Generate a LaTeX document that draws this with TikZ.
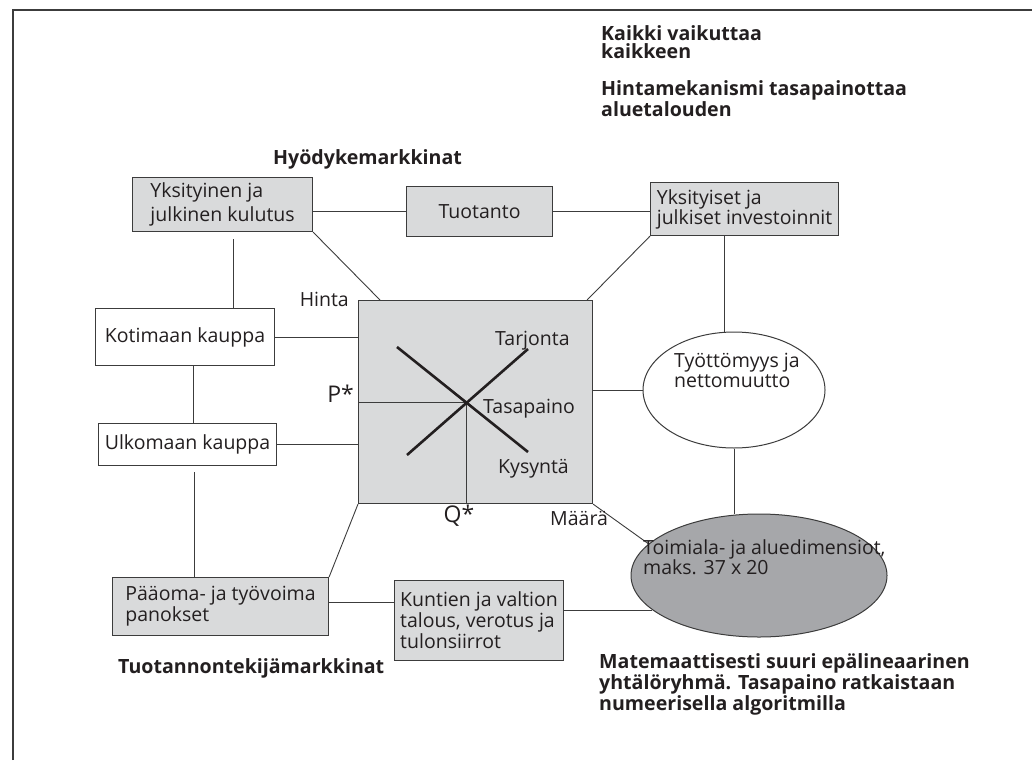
\documentclass[tikz,border=0pt]{standalone}
\usepackage{fontspec}
\setmainfont{Open Sans}
\usetikzlibrary{shapes.geometric,calc,backgrounds}
\definecolor{boxgray}{HTML}{D9DADB}
\definecolor{ellgray}{HTML}{A6A7AA}
\definecolor{linec}{HTML}{3C3C3C}
\definecolor{txt}{HTML}{231F20}
\begin{document}
\begin{tikzpicture}[x=1pt,y=-1pt,
  every node/.style={text=txt},
  boxnode/.style={draw=linec, line width=1.1pt, fill=boxgray, anchor=north west, inner sep=0pt, align=left, font=\fontsize{19.5}{21}\selectfont},
  whitebox/.style={boxnode, fill=white},
  ellnode/.style={draw=linec, line width=1pt, ellipse, inner sep=0pt},
  conn/.style={draw=linec, line width=0.9pt},
  curve/.style={draw=txt, line width=2.6pt},
  boldtxt/.style={font=\bfseries\fontsize{19.6}{18}\selectfont, align=left, anchor=base west, inner sep=0pt},
  plain/.style={font=\fontsize{19.5}{20}\selectfont, inner sep=0pt},
  startxt/.style={font=\fontsize{23}{23}\selectfont, inner sep=0pt}
]
\useasboundingbox (0,0) rectangle (1032,760);
\draw[linec, line width=1.2pt] (13,760) -- (13,10) -- (1032,10);

% boxes
\node[boxnode, minimum width=180, minimum height=54, font=\fontsize{19.5}{24}\selectfont] (yk) at (132,177) {Yksityinen ja\\julkinen kulutus};
\node[boxnode, minimum width=146, minimum height=50] (tuo) at (406,186) {Tuotanto};
\node[boxnode, minimum width=188, minimum height=53, font=\fontsize{19.5}{20}\selectfont] (inv) at (650,182) {Yksityiset ja\\julkiset investoinnit};
\node[whitebox, minimum width=179, minimum height=57] (kot) at (95,308) {Kotimaan kauppa};
\node[whitebox, minimum width=178, minimum height=42] (ulk) at (98,423) {Ulkomaan kauppa};
\node[boxnode, minimum width=216, minimum height=58] (paa) at (112,577) {Pääoma- ja työvoima\\panokset};
\node[boxnode, minimum width=169, minimum height=80] (kun) at (394,580) {Kuntien ja valtion\\talous, verotus ja\\tulonsiirrot};
\node[boxnode, minimum width=234, minimum height=203] (sq) at (358,300) {};

% ellipses
\node[ellnode, fill=white, minimum width=182, minimum height=116] (tyo) at (734,390) {};
\node[plain, align=left, anchor=base west] (tyotxt) at (674,387) {Työttömyys ja\\nettomuutto};
\node[ellnode, fill=ellgray, minimum width=256, minimum height=123] (toim) at (759,575.5) {};
\node[plain, align=left, anchor=base west] (toimtxt) at (643,574) {Toimiala- ja aluedimensiot,\\maks. 37 x 20};

% supply and demand chart
\coordinate (eq) at (466,402.5);
\draw[conn] (sq.west |- eq) -- (eq) -- (eq |- sq.south);
\draw[curve] (407,455) -- (528,349);
\draw[curve] (397,347) -- (528,452);
\node[plain, anchor=base west] (tarj) at (495,345) {Tarjonta};
\node[plain, anchor=base west] (tasa) at (483,413) {Tasapaino};
\node[plain, anchor=base west] (kys) at (498,473) {Kysyntä};
\node[plain, anchor=base east] (hinta) at (349,306) {Hinta};
\node[plain, anchor=base west] (maara) at (550,525) {Määrä};
\node[startxt, anchor=base east] (pstar) at (354,402) {P*};
\node[startxt, anchor=base] (qstar) at (459,522) {Q*};

% bold texts
\node[boldtxt] (kaikki) at (601,59) {Kaikki vaikuttaa\\kaikkeen};
\node[boldtxt] (mekan) at (601,116) {Hintamekanismi tasapainottaa\\aluetalouden};
\node[boldtxt] (hyod) at (273,164) {Hyödykemarkkinat};
\node[boldtxt] (tuotm) at (118,673) {Tuotannontekijämarkkinat};
\node[boldtxt] (mate) at (599,710) {Matemaattisesti suuri epälineaarinen\\yhtälöryhmä. Tasapaino ratkaistaan\\numeerisella algoritmilla};

% connectors
\begin{scope}[on background layer]
\draw[conn] (tuo.west) -- (tuo.west -| yk.east);
\draw[conn] (tuo.east) -- (tuo.east -| inv.west);
\draw[conn] (yk.south east) -- ([xshift=22pt]sq.north west);
\draw[conn] (inv.south west) -- ([xshift=-6pt]sq.north east);
\draw[conn] ([xshift=11pt,yshift=-7pt]yk.south) -- ([xshift=11pt]yk.south |- kot.north);
\draw[conn] (kot.east) -- (kot.east -| sq.west);
\draw[conn] ([xshift=8.5pt]kot.south) -- ([xshift=8.5pt]kot.south |- ulk.north);
\draw[conn] (ulk.east) -- (ulk.east -| sq.west);
\draw[conn] ([xshift=7pt,yshift=-6pt]ulk.south) -- ([xshift=7pt]ulk.south |- paa.north);
\draw[conn] (paa.north east) -- (sq.south west);
\draw[conn] ([yshift=4pt]paa.east) -- ([yshift=4pt]paa.east -| kun.west);
\draw[conn] (toim.198 -| kun.east) -- (toim.198);
\draw[conn] (sq.east |- tyo.west) -- (tyo.west);
\draw[conn] ([xshift=-20pt]inv.south) -- ([xshift=-20pt]inv.south |- tyo.north);
\draw[conn] (tyo.south) -- (tyo.south |- toim.north);
\draw[conn] (sq.south east) -- (toim.164);
\end{scope}
\end{tikzpicture}
\end{document}
